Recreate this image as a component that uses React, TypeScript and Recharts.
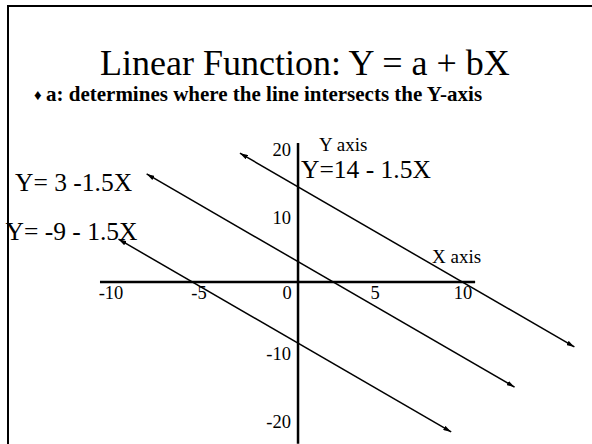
import React from 'react';
import { LineChart, Line, XAxis, YAxis, ReferenceLine, ReferenceDot } from 'recharts';

// Y = a + bX with b = -1.5 and three different intercepts
const lineA = [
  { x: -3.3, y: 18.95 },
  { x: 15.7, y: -9.55 },
]; // Y = 14 - 1.5X
const lineB = [
  { x: -8.6, y: 15.9 },
  { x: 12.3, y: -15.45 },
]; // Y = 3 - 1.5X
const lineC = [
  { x: -10.2, y: 6.3 },
  { x: 8.7, y: -22.05 },
]; // Y = -9 - 1.5X

const xTicks = [-10, -5, 0, 5, 10];
const yTicks = [20, 10, -10, -20];

// extents of the hand-drawn axes
const xAxisSpan = [-11.25, 10.06];
const yAxisSpan = [20.44, -23.8];

const xDomain = [-16.93, 16.7];
const yDomain = [-23.82, 41.47];

const serif = '"Liberation Serif", "Times New Roman", serif';

const XTick = (props: any) => (
  <text x={props.cx - 11} y={props.cy + 17} textAnchor="middle" fontFamily={serif} fontSize={18.5} fill="#000">
    {props.value}
  </text>
);

const YTick = (props: any) => (
  <text x={props.cx - 7} y={props.cy + 10} textAnchor="end" fontFamily={serif} fontSize={18.5} fill="#000">
    {props.value}
  </text>
);

const lineStyle = {
  stroke: '#000',
  strokeWidth: 1.5,
  dot: false,
  activeDot: false,
  isAnimationActive: false,
  markerStart: 'url(#arrowHead)',
  markerEnd: 'url(#arrowHead)',
} as const;

export default function App() {
  return (
    <div style={{ position: 'absolute', left: 0, top: 0, width: 592, height: 444, overflow: 'hidden', background: '#fff' }}>
      <LineChart width={592} height={444} margin={{ top: 0, right: 0, bottom: 0, left: 0 }}>
        <defs>
          <marker id="arrowHead" viewBox="0 0 10 6" refX="10" refY="3" markerWidth="8" markerHeight="5" markerUnits="userSpaceOnUse" orient="auto-start-reverse">
            <path d="M0,0 L10,3 L0,6 z" fill="#000" />
          </marker>
        </defs>
        <XAxis type="number" dataKey="x" domain={xDomain} allowDataOverflow hide height={0} />
        <YAxis type="number" dataKey="y" domain={yDomain} allowDataOverflow hide width={0} />
        <ReferenceLine segment={[{ x: xAxisSpan[0], y: 0 }, { x: xAxisSpan[1], y: 0 }]} stroke="#000" strokeWidth={2.5} />
        <ReferenceLine segment={[{ x: 0, y: yAxisSpan[0] }, { x: 0, y: yAxisSpan[1] }]} stroke="#000" strokeWidth={2.5} />
        {xTicks.map((v) => (
          <ReferenceDot key={`x${v}`} x={v} y={0} r={0} shape={(p: any) => <XTick {...p} value={v} />} />
        ))}
        {yTicks.map((v) => (
          <ReferenceDot key={`y${v}`} x={0} y={v} r={0} shape={(p: any) => <YTick {...p} value={v} />} />
        ))}
        <Line data={lineA} dataKey="y" {...lineStyle} />
        <Line data={lineB} dataKey="y" {...lineStyle} />
        <Line data={lineC} dataKey="y" {...lineStyle} />
      </LineChart>

      <svg width={592} height={444} style={{ position: 'absolute', left: 0, top: 0, pointerEvents: 'none' }} fontFamily={serif} fill="#000">
        <text x={100} y={75} fontSize={36}>Linear Function: Y = a + bX</text>
        <text x={34} y={100} fontSize={15}>♦</text>
        <text x={46} y={101} fontSize={21} fontWeight="bold">a: determines where the line intersects the Y-axis</text>
        <text x={319} y={151} fontSize={19}>Y axis</text>
        <text x={432} y={263} fontSize={19}>X axis</text>
        <text x={301} y={178} fontSize={25.5}>Y=14 - 1.5X</text>
        <text x={15} y={191} fontSize={25.5}>Y= 3 -1.5X</text>
        <text x={5.5} y={240} fontSize={25.5}>Y= -9 - 1.5X</text>
      </svg>

      <div style={{ position: 'absolute', left: 7, top: 5, width: 700, height: 700, borderLeft: '2px solid #000', borderTop: '2px solid #000' }} />
    </div>
  );
}
